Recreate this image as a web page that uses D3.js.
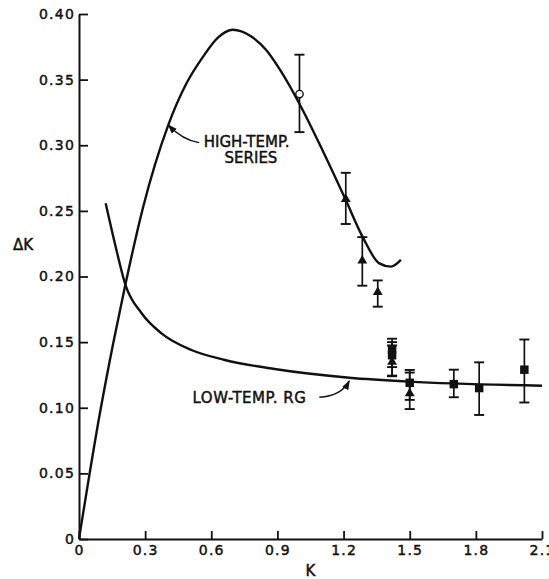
<!DOCTYPE html>
<html><head><meta charset="utf-8">
<script src="https://cdn.jsdelivr.net/npm/d3@7"></script>
<style>
html,body{margin:0;padding:0;background:#fff;}
text{font-family:"DejaVu Sans",sans-serif;fill:#111;stroke:#111;stroke-width:0.45px;}
</style></head>
<body>
<svg id="c" width="549" height="579"></svg>
<script>
// ---- data ----
const highTempK  = [0, 0.095, 0.155, 0.208, 0.291, 0.404, 0.487, 0.563, 0.63, 0.698, 0.78, 0.849, 0.91, 1.008, 1.105, 1.208, 1.287, 1.362, 1.415, 1.46];
const highTempDK = [0, 0.096, 0.149, 0.192, 0.253, 0.315, 0.347, 0.3675, 0.382, 0.388, 0.383, 0.3726, 0.358, 0.329, 0.296, 0.259, 0.230, 0.210, 0.2075, 0.2126];

const lowTempK  = [0.121, 0.163, 0.211, 0.284, 0.374, 0.51, 0.661, 0.887, 1.226, 1.498, 2.1];
const lowTempDK = [0.2558, 0.225, 0.1935, 0.172, 0.1567, 0.144, 0.1364, 0.1295, 0.1229, 0.1199, 0.1168];

const circleK = [1.0], circleDK = [0.339], circleLo = [0.310], circleHi = [0.369];

const triK  = [1.21, 1.285, 1.355, 1.42, 1.50];
const triDK = [0.259, 0.212, 0.188, 0.135, 0.111];
const triLo = [0.240, 0.193, 0.177, 0.1245, 0.099];
const triHi = [0.279, 0.230, 0.197, 0.150, 0.1268];

const sqK  = [1.42, 1.42, 1.50, 1.70, 1.815, 2.02];
const sqDK = [0.1445, 0.140, 0.119, 0.118, 0.115, 0.129];
const sqLo = [0.131, 0.124, 0.106, 0.108, 0.0945, 0.104];
const sqHi = [0.1526, 0.1475, 0.1288, 0.129, 0.1346, 0.152];

const xTicks = [0, 0.3, 0.6, 0.9, 1.2, 1.5, 1.8, 2.1];
const yTicks = [0, 0.05, 0.10, 0.15, 0.20, 0.25, 0.30, 0.35, 0.40];

// ---- chart ----
const svg = d3.select("#c");
const x = d3.scaleLinear().domain([0, 2.1]).range([79, 542]);
const y = d3.scaleLinear().domain([0, 0.4]).range([539, 14]);

const xAxis = d3.axisBottom(x).tickValues(xTicks).tickSizeInner(-8).tickSizeOuter(0).tickPadding(6)
  .tickFormat(d => d === 0 ? "0" : d3.format(".1f")(d));
const yAxis = d3.axisLeft(y).tickValues(yTicks).tickSizeInner(-9).tickSizeOuter(0).tickPadding(4)
  .tickFormat(d => d === 0 ? "0" : d3.format(".2f")(d));

function styleAxis(g){
  g.select(".domain").attr("stroke","#111").attr("stroke-width",2);
  g.selectAll(".tick line").attr("stroke","#111").attr("stroke-width",1.8);
  g.selectAll(".tick text").style("font-family","'DejaVu Sans',sans-serif").style("font-size","14px")
    .style("letter-spacing","1.2px").attr("fill","#111");
}
svg.append("g").attr("transform","translate(0,539)").call(xAxis).call(styleAxis);
svg.append("g").attr("transform","translate(79,0)").call(yAxis).call(styleAxis);

svg.append("text").attr("x",x(1.05)).attr("y",576).attr("text-anchor","middle").style("font-size","15px").text("K");
svg.append("text").attr("x",23).attr("y",250).attr("text-anchor","middle").style("font-size","15px").text("ΔK");

const line = d3.line().x(d=>x(d[0])).y(d=>y(d[1])).curve(d3.curveMonotoneX);
svg.append("path").datum(d3.zip(highTempK, highTempDK)).attr("d", line)
  .attr("fill","none").attr("stroke","#111").attr("stroke-width",2.4);
svg.append("path").datum(d3.zip(lowTempK, lowTempDK)).attr("d", line)
  .attr("fill","none").attr("stroke","#111").attr("stroke-width",2.4);

// error bars
function errBars(K, lo, hi){
  const g = svg.append("g").attr("stroke","#111");
  K.forEach((k,i)=>{
    g.append("line").attr("x1",x(k)).attr("x2",x(k)).attr("y1",y(lo[i])).attr("y2",y(hi[i])).attr("stroke-width",1.7);
    [lo[i],hi[i]].forEach(v=>g.append("line").attr("x1",x(k)-5).attr("x2",x(k)+5).attr("y1",y(v)).attr("y2",y(v)).attr("stroke-width",1.9));
  });
}
errBars(circleK, circleLo, circleHi);
errBars(triK, triLo, triHi);
errBars(sqK, sqLo, sqHi);

svg.selectAll(".tri").data(d3.zip(triK, triDK)).join("path")
  .attr("transform", d=>`translate(${x(d[0])},${y(d[1])})`)
  .attr("d", d3.symbol(d3.symbolTriangle, 42)).attr("fill","#111");
svg.selectAll(".sq").data(d3.zip(sqK, sqDK)).join("path")
  .attr("transform", d=>`translate(${x(d[0])},${y(d[1])})`)
  .attr("d", d3.symbol(d3.symbolSquare, 72)).attr("fill","#111");
svg.selectAll(".circ").data(d3.zip(circleK, circleDK)).join("circle")
  .attr("cx", d=>x(d[0])).attr("cy", d=>y(d[1])).attr("r",3.7)
  .attr("fill","#fff").attr("stroke","#111").attr("stroke-width",1.4);

// annotations
svg.append("defs").append("marker").attr("id","ah").attr("viewBox","0 0 10 10").attr("refX",9).attr("refY",5)
  .attr("markerWidth",7).attr("markerHeight",7).attr("orient","auto-start-reverse")
  .append("path").attr("d","M0,1.5 L10,5 L0,8.5 Z").attr("fill","#111").attr("stroke","none");

function arrow(p0, c, p1){
  const p = d3.path();
  p.moveTo(x(p0[0]), y(p0[1])); p.quadraticCurveTo(x(c[0]), y(c[1]), x(p1[0]), y(p1[1]));
  svg.append("path").attr("d", p.toString()).attr("fill","none").attr("stroke","#111")
    .attr("stroke-width",1.4).attr("marker-end","url(#ah)");
}
arrow([0.545, 0.302], [0.47, 0.304], [0.405, 0.3155]);
arrow([1.09, 0.108], [1.19, 0.109], [1.226, 0.1205]);

const hl = svg.append("text").style("font-size","15px").attr("text-anchor","middle");
hl.append("tspan").attr("x",x(0.76)).attr("y",y(0.299)).text("HIGH-TEMP.");
hl.append("tspan").attr("x",x(0.78)).attr("y",y(0.2865)).text("SERIES");
svg.append("text").attr("x",x(0.515)).attr("y",y(0.104)).style("font-size","15px").style("letter-spacing","0.5px").text("LOW-TEMP. RG");
</script>
</body></html>
